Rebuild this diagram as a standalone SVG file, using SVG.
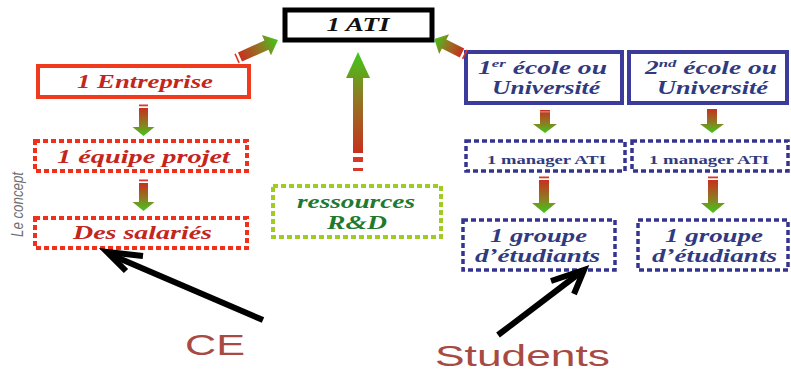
<svg xmlns="http://www.w3.org/2000/svg" width="791" height="373" viewBox="0 0 791 373">
<style>
.t{font-family:"Liberation Serif","Times New Roman",serif;font-weight:bold;font-style:italic;text-anchor:middle}
.s{font-family:"Liberation Sans",Arial,sans-serif;text-anchor:middle;fill:#a84a44}
.tr{fill:#c4261c;font-size:18px}
.tb{fill:#2f3a80;font-size:18px}
.tg{fill:#1f7a30;font-size:18px}
.tm{font-family:"Liberation Serif","Times New Roman",serif;font-weight:bold;fill:#2f3a80;font-size:13px;text-anchor:middle}
.bred{fill:#fff;stroke:#f03a1e;stroke-width:4}
.dred{fill:#fff;stroke:#f0301a;stroke-width:4;stroke-dasharray:5 3}
.bblue{fill:#fff;stroke:#3b3b9b;stroke-width:4}
.dblue{fill:#fff;stroke:#34348f;stroke-width:3.5;stroke-dasharray:5 3}
.dgreen{fill:#fff;stroke:#a0cc22;stroke-width:4;stroke-dasharray:5 3}
.ga{fill:url(#g)}
.st{fill:#d8382a}
.blk{fill:none;stroke:#000;stroke-width:6}
</style>
<defs>
<linearGradient id="g" x1="0" y1="0" x2="1" y2="0">
<stop offset="0" stop-color="#c8301e"/>
<stop offset="0.55" stop-color="#8e7a22"/>
<stop offset="1" stop-color="#40c81a"/>
</linearGradient>
</defs>
<rect width="791" height="373" fill="#fff"/>

<text x="23" y="237" transform="rotate(-90 23 237)" font-family="'Liberation Sans',Arial,sans-serif" font-style="italic" font-size="17" fill="#707070" textLength="65" lengthAdjust="spacingAndGlyphs">Le concept</text>

<g id="ati">
<rect x="285" y="10" width="147" height="30" fill="#fff" stroke="#000" stroke-width="5"/>
<text class="t" x="358" y="31" fill="#111" font-size="18" textLength="63" lengthAdjust="spacingAndGlyphs">1 ATI</text>
</g>
<g id="entreprise">
<rect class="bred" x="38" y="66" width="211" height="31"/>
<text class="t tr" x="145" y="88" textLength="136" lengthAdjust="spacingAndGlyphs">1 Entreprise</text>
</g>
<g id="equipe">
<rect class="dred" x="35" y="141" width="212" height="30"/>
<text class="t tr" x="143.5" y="163" textLength="173" lengthAdjust="spacingAndGlyphs">1 équipe projet</text>
</g>
<g id="salaries">
<rect class="dred" x="35" y="218" width="212" height="30"/>
<text class="t tr" x="142.5" y="239" textLength="139" lengthAdjust="spacingAndGlyphs">Des salariés</text>
</g>
<g id="ressources">
<rect class="dgreen" x="273" y="186" width="168" height="51"/>
<text class="t tg" x="356" y="208" textLength="118" lengthAdjust="spacingAndGlyphs">ressources</text>
<text class="t tg" x="357" y="229" textLength="60" lengthAdjust="spacingAndGlyphs">R&amp;D</text>
</g>
<g id="ecole1">
<rect class="bblue" x="466" y="52" width="156" height="51"/>
<text class="t tb" x="542.5" y="74" textLength="129" lengthAdjust="spacingAndGlyphs">1<tspan font-size="11" dy="-7">er</tspan><tspan dy="7"> école ou</tspan></text>
<text class="t tb" x="546" y="94" textLength="108" lengthAdjust="spacingAndGlyphs">Université</text>
</g>
<g id="ecole2">
<rect class="bblue" x="629" y="52" width="158" height="51"/>
<text class="t tb" x="711" y="74" textLength="132" lengthAdjust="spacingAndGlyphs">2<tspan font-size="11" dy="-7">nd</tspan><tspan dy="7"> école ou</tspan></text>
<text class="t tb" x="712.5" y="94" textLength="111" lengthAdjust="spacingAndGlyphs">Université</text>
</g>
<g id="manager1">
<rect class="dblue" x="466" y="141" width="159" height="30"/>
<text class="tm" x="546.5" y="164" textLength="119" lengthAdjust="spacingAndGlyphs">1 manager ATI</text>
</g>
<g id="manager2">
<rect class="dblue" x="632" y="141" width="156" height="30"/>
<text class="tm" x="709" y="164" textLength="120" lengthAdjust="spacingAndGlyphs">1 manager ATI</text>
</g>
<g id="groupe1">
<rect class="dblue" x="463" y="220" width="152" height="50"/>
<text class="t tb" x="538.5" y="242" textLength="97" lengthAdjust="spacingAndGlyphs">1 groupe</text>
<text class="t tb" x="537.5" y="262" textLength="125" lengthAdjust="spacingAndGlyphs">d’étudiants</text>
</g>
<g id="groupe2">
<rect class="dblue" x="638" y="220" width="150" height="50"/>
<text class="t tb" x="714" y="242" textLength="98" lengthAdjust="spacingAndGlyphs">1 groupe</text>
<text class="t tb" x="714.5" y="262" textLength="125" lengthAdjust="spacingAndGlyphs">d’étudiants</text>
</g>
<g id="ce">
<text class="s" x="215" y="355" font-size="30" textLength="60" lengthAdjust="spacingAndGlyphs">CE</text>
</g>
<g id="students">
<text class="s" x="522.5" y="366" font-size="29" textLength="175" lengthAdjust="spacingAndGlyphs">Students</text>
</g>

<g id="connectors">
<g transform="translate(240 57) rotate(-24.1)">
<rect class="st" x="-4" y="-5" width="1.6" height="10"/>
<path class="ga" d="M0,-5H29V-11L41.6,0L29,11V5H0Z"/>
</g>
<g transform="translate(462 53) rotate(-153.4)">
<rect class="st" x="-4" y="-5" width="1.6" height="10"/>
<path class="ga" d="M0,-5H20V-11L31,0L20,11V5H0Z"/>
</g>
<g transform="translate(358 153) rotate(-90)">
<path class="ga" d="M0,-5H75V-12L101,0L75,12V5H0Z"/>
</g>
<rect class="st" x="353" y="157" width="10" height="5"/>
<rect class="st" x="353" y="168" width="10" height="3"/>
<g transform="translate(143.5 108) rotate(90)">
<rect class="st" x="-3.5" y="-4.5" width="1.8" height="9"/>
<path class="ga" d="M0,-4.5H19V-11L28,0L19,11V4.5H0Z"/>
</g>
<g transform="translate(143.5 183) rotate(90)">
<rect class="st" x="-3.5" y="-4.5" width="1.8" height="9"/>
<path class="ga" d="M0,-4.5H19V-11L28,0L19,11V4.5H0Z"/>
</g>
<g transform="translate(545 110) rotate(90)">
<rect class="st" x="0" y="-5" width="4" height="10"/>
<path class="ga" d="M0,-5H14V-12L23,0L14,12V5H0Z"/>
<rect x="1.5" y="-5" width="0.8" height="10" fill="#fff" opacity="0.6"/>
</g>
<g transform="translate(712 109) rotate(90)">
<rect class="st" x="0" y="-5" width="4" height="10"/>
<path class="ga" d="M0,-5H15V-12L24,0L15,12V5H0Z"/>
</g>
<g transform="translate(544 180) rotate(90)">
<rect class="st" x="-3.5" y="-5" width="1.8" height="10"/>
<path class="ga" d="M0,-5H23V-12L33,0L23,12V5H0Z"/>
</g>
<g transform="translate(713 180) rotate(90)">
<rect class="st" x="-3.5" y="-5" width="1.8" height="10"/>
<path class="ga" d="M0,-5H23V-12L33,0L23,12V5H0Z"/>
</g>
<path class="blk" d="M263,320L109,254"/>
<path class="blk" d="M143,256L107,252L126,271" stroke-linejoin="miter"/>
<path class="blk" d="M498,335L581,272"/>
<path class="blk" d="M551,281L584,270L574,294" stroke-linejoin="miter"/>
</g>
</svg>
